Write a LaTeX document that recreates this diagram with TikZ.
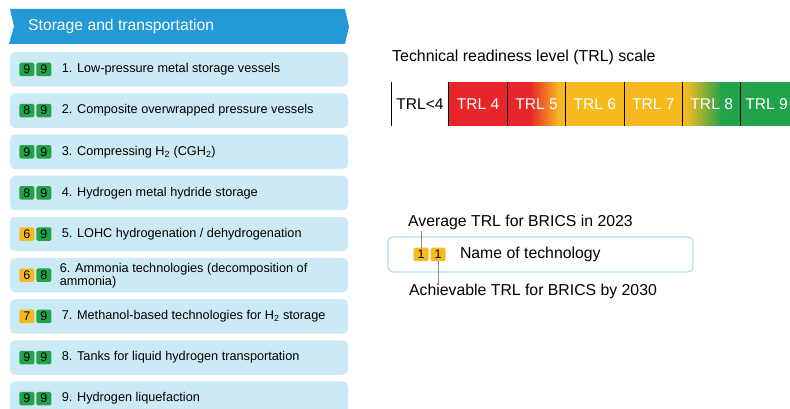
\documentclass[tikz,border=0pt]{standalone}
\usepackage{fontspec}
\setmainfont{Liberation Sans}
\usetikzlibrary{positioning}

\definecolor{bannerblue}{HTML}{2399D6}
\definecolor{rowblue}{HTML}{CCEAF6}
\definecolor{legendline}{HTML}{BCDCF0}
\definecolor{trlred}{HTML}{E8252A}
\definecolor{trlyellow}{HTML}{F6BA21}
\definecolor{trlgreen}{HTML}{22A24B}
\definecolor{linegray}{HTML}{8C8C8C}

\begin{document}
\begin{tikzpicture}
[x=1pt,y=1pt,node distance=6.25pt,
 row/.style={fill=rowblue,rounded corners=5pt,minimum width=338pt,minimum height=34.5pt,inner sep=0pt},
 badge/.style={rounded corners=1.5pt,minimum width=15pt,minimum height=13.5pt,inner sep=0pt,font=\fontsize{12.5}{12.5}\selectfont},
 item/.style={inner sep=0pt,align=left,font=\fontsize{12.7}{13}\selectfont},
 seg/.style={minimum width=58pt,minimum height=44pt,inner sep=0pt,text=white,font=\fontsize{15.6}{15.6}\selectfont},
 fade/.style n args={4}{path picture={
   \fill[#1] (path picture bounding box.south west) rectangle (path picture bounding box.north east);
   \fill[#2] ([xshift=#4]path picture bounding box.south west) rectangle (path picture bounding box.north east);
   \foreach \k [evaluate=\k as \pct using int(100*\k/29)] in {0,...,29}
     \fill[#2!\pct!#1] ([xshift={#3+(#4-#3)*\k/30}]path picture bounding box.south west)
       rectangle ([xshift={#3+(#4-#3)*(\k+1)/30+0.3}]path picture bounding box.north west);}},
 lbl/.style={inner sep=1pt,font=\fontsize{15.8}{15.8}\selectfont}]
\useasboundingbox (0,0) rectangle (790,409);

% banner
\fill[bannerblue] (10,400) -- (345,400) -- (349,382.5) -- (345,365) -- (9,365) -- (14,382.5) -- cycle;
\node[anchor=west,text=white,inner sep=0pt,font=\fontsize{15.7}{16}\selectfont] (header) at (28,382.5) {Storage and transportation};

% rows
\node[row] (row1) at (179,339.5) {};
\node[row, below=of row1] (row2) {};
\node[row, below=of row2] (row3) {};
\node[row, below=of row3] (row4) {};
\node[row, below=of row4] (row5) {};
\node[row, below=of row5] (row6) {};
\node[row, below=of row6] (row7) {};
\node[row, below=of row7] (row8) {};
\node[row, below=of row8] (row9) {};

\node[badge, fill=trlgreen, right=9.3pt of row1.west] (a1) {9};
\node[badge, fill=trlgreen, right=1.7pt of a1] (b1) {9};
\node[item, right=10pt of b1] (t1) {1. Low-pressure metal storage vessels};

\node[badge, fill=trlgreen, right=9.3pt of row2.west] (a2) {8};
\node[badge, fill=trlgreen, right=1.7pt of a2] (b2) {9};
\node[item, right=10pt of b2] (t2) {2. Composite overwrapped pressure vessels};

\node[badge, fill=trlgreen, right=9.3pt of row3.west] (a3) {9};
\node[badge, fill=trlgreen, right=1.7pt of a3] (b3) {9};
\node[item, right=10pt of b3] (t3) {3. Compressing H\textsubscript{2} (CGH\textsubscript{2})};

\node[badge, fill=trlgreen, right=9.3pt of row4.west] (a4) {8};
\node[badge, fill=trlgreen, right=1.7pt of a4] (b4) {9};
\node[item, right=10pt of b4] (t4) {4. Hydrogen metal hydride storage};

\node[badge, fill=trlyellow, right=9.3pt of row5.west] (a5) {6};
\node[badge, fill=trlgreen, right=1.7pt of a5] (b5) {9};
\node[item, right=10pt of b5] (t5) {5. LOHC hydrogenation / dehydrogenation};

\node[badge, fill=trlyellow, right=9.3pt of row6.west] (a6) {6};
\node[badge, fill=trlgreen, right=1.7pt of a6] (b6) {8};
\node[item, right=8pt of b6] (t6) {6. Ammonia technologies (decomposition of\\ammonia)};

\node[badge, fill=trlyellow, right=9.3pt of row7.west] (a7) {7};
\node[badge, fill=trlgreen, right=1.7pt of a7] (b7) {9};
\node[item, right=10pt of b7] (t7) {7. Methanol-based technologies for H\textsubscript{2} storage};

\node[badge, fill=trlgreen, right=9.3pt of row8.west] (a8) {9};
\node[badge, fill=trlgreen, right=1.7pt of a8] (b8) {9};
\node[item, right=10pt of b8] (t8) {8. Tanks for liquid hydrogen transportation};

\node[badge, fill=trlgreen, right=9.3pt of row9.west] (a9) {9};
\node[badge, fill=trlgreen, right=1.7pt of a9] (b9) {9};
\node[item, right=10pt of b9] (t9) {9. Hydrogen liquefaction};

% TRL scale
\node[anchor=west,inner sep=0pt,font=\fontsize{15.9}{16}\selectfont] (scaletitle) at (392,351.5) {Technical readiness level (TRL) scale};
\node[seg, anchor=west, minimum width=57.5pt, text=black] (trl0) at (391,305) {TRL<4};
\node[seg, fill=trlred, right=0pt of trl0] (trl4) {TRL 4};
\node[seg, fade={trlred}{trlyellow}{22}{52}, right=0pt of trl4] (trl5) {TRL 5};
\node[seg, fill=trlyellow, right=0pt of trl5] (trl6) {TRL 6};
\node[seg, fill=trlyellow, right=0pt of trl6] (trl7) {TRL 7};
\node[seg, fade={trlyellow}{trlgreen}{3}{40}, right=0pt of trl7] (trl8) {TRL 8};
\node[seg, fill=trlgreen, minimum width=51pt, right=0pt of trl8] (trl9) {TRL 9};
\foreach \s in {trl0,trl4,trl5,trl6,trl7,trl8,trl9}
  \draw[line width=1pt] (\s.north west) -- (\s.south west);

% legend
\node[draw=legendline, line width=1.3pt, rounded corners=5pt, minimum width=305pt, minimum height=35pt, inner sep=0pt] (legend) at (540.5,154.5) {};
\node[badge, fill=trlyellow, right=26pt of legend.west] (avgbadge) {1};
\node[badge, fill=trlyellow, right=1.7pt of avgbadge] (goalbadge) {1};
\node[lbl, right=13pt of goalbadge] (techname) {Name of technology};
\node[lbl, anchor=west] (avglbl) at (407,187) {Average TRL for BRICS in 2023};
\node[lbl, anchor=west] (goallbl) at (408,117.5) {Achievable TRL for BRICS by 2030};
\draw[linegray, line width=1pt] (avgbadge.north) -- (avgbadge.north |- avglbl.south);
\draw[linegray, line width=1pt] (goalbadge.south) -- (goalbadge.south |- goallbl.north);
\end{tikzpicture}
\end{document}
